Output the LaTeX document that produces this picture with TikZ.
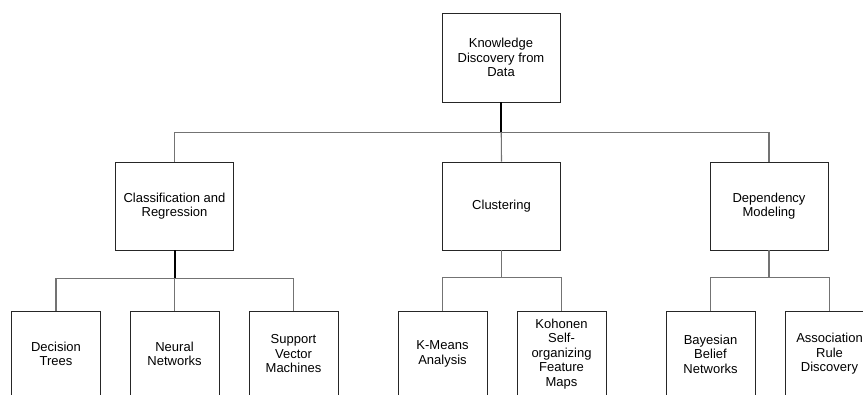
\documentclass[tikz,border=0pt]{standalone}
\usepackage{fontspec}
\setmainfont{Liberation Sans}
\usetikzlibrary{positioning,calc}

\begin{document}
\begin{tikzpicture}[x=1pt, y=-1pt]
    % Styles
    \tikzstyle{box}=[draw=black!85, line width=0.8pt, inner sep=0pt, align=center, font=\fontsize{13}{14.5}\selectfont]
    \tikzstyle{upper}=[box, minimum width=118pt, minimum height=89pt]
    \tikzstyle{leaf}=[box, minimum width=89pt, minimum height=86pt]
    \tikzstyle{link}=[draw=black!55, line width=1.1pt]
    \tikzstyle{trunk}=[draw=black, line width=2pt]

    \useasboundingbox (0,0) rectangle (863,394);
    \clip (0,0) rectangle (863,394);

    % Nodes
    \node[upper] (kdd) at (501,57.5) {Knowledge\\Discovery from\\Data};

    \node[upper, minimum height=88pt] (clas) at (174.5,206) {Classification and\\Regression};
    \node[upper, minimum height=88pt] (clus) at (501.5,206) {Clustering};
    \node[upper, minimum height=88pt] (dep) at (769,206) {Dependency\\Modeling};

    \node[leaf] (dt) at (56,354) {Decision\\Trees};
    \node[leaf] (nn) at (174.5,354) {Neural\\Networks};
    \node[leaf] (svm) at (293.5,354) {Support\\Vector\\Machines};
    \node[leaf] (km) at (442.5,354) {K-Means\\Analysis};
    \node[leaf] (som) at (561.5,354) {Kohonen\\Self-\\organizing\\Feature\\Maps};
    \node[leaf] (bbn) at (710.5,354) {Bayesian\\Belief\\Networks};
    \node[leaf] (ard) at (829.5,354) {Association\\Rule\\Discovery};

    % Edges
    \draw[link] (kdd.south) -- ++(0,30) -| (clas.north);
    \draw[link] (kdd.south) -- ++(0,30) -| (dep.north);
    \draw[link] (kdd.south) -- (clus.north);
    \draw[trunk] (kdd.south) -- ++(0,30);

    \draw[link] (clas.south) -- ++(0,28) -| (dt.north);
    \draw[link] (clas.south) -- ++(0,28) -| (svm.north);
    \draw[link] (clas.south) -- (nn.north);
    \draw[trunk] (clas.south) -- ++(0,28);

    \draw[link] (clus.south) -- ++(0,27) -| (km.north);
    \draw[link] (clus.south) -- ++(0,27) -| (som.north);

    \draw[link] (dep.south) -- ++(0,27) -| (bbn.north);
    \draw[link] (dep.south) -- ++(0,27) -| (ard.north);
\end{tikzpicture}
\end{document}
